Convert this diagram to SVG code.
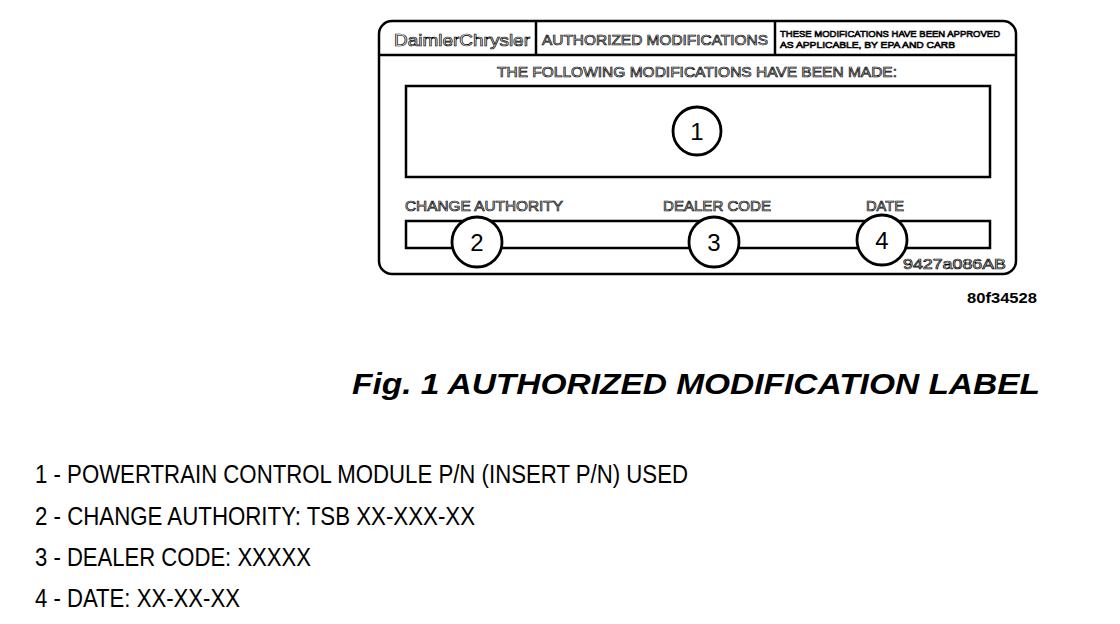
<svg xmlns="http://www.w3.org/2000/svg" width="1120" height="624" viewBox="0 0 1120 624">
<style>
.ln{fill:none;stroke:#000;stroke-width:2.5}
.hol{font-family:"Liberation Sans",Arial,sans-serif;fill:#fff;stroke:#000;stroke-width:0.7}
.num{font-family:"Liberation Sans",Arial,sans-serif;font-size:24px;fill:#000;text-anchor:middle}
.cir{fill:#fff;stroke:#000;stroke-width:2.8}
.lst{font-family:"Liberation Sans",Arial,sans-serif;font-size:25px;fill:#000}
</style>
<rect width="1120" height="624" fill="#fff"/>
<g id="label">
<rect class="ln" x="379" y="21" width="637" height="253" rx="13" ry="13"/>
<line class="ln" x1="379" y1="55" x2="1016" y2="55" stroke-width="2"/>
<line class="ln" x1="536" y1="21" x2="536" y2="55" stroke-width="2"/>
<line class="ln" x1="775" y1="21" x2="775" y2="55" stroke-width="2"/>
<text class="hol" x="462" y="46" font-size="17" text-anchor="middle" textLength="136" lengthAdjust="spacingAndGlyphs">DaimlerChrysler</text>
<text class="hol" x="655" y="45" font-size="14" text-anchor="middle" textLength="226" lengthAdjust="spacingAndGlyphs">AUTHORIZED MODIFICATIONS</text>
<text class="hol" x="780" y="37" font-size="9" stroke-width="0.5" textLength="220" lengthAdjust="spacingAndGlyphs">THESE MODIFICATIONS HAVE BEEN APPROVED</text>
<text class="hol" x="780" y="48" font-size="9" stroke-width="0.5" textLength="175" lengthAdjust="spacingAndGlyphs">AS APPLICABLE, BY EPA AND CARB</text>
<text class="hol" x="697" y="77" font-size="14" text-anchor="middle" textLength="400" lengthAdjust="spacingAndGlyphs">THE FOLLOWING MODIFICATIONS HAVE BEEN MADE:</text>
<text class="hol" x="405" y="211" font-size="14" textLength="158" lengthAdjust="spacingAndGlyphs">CHANGE AUTHORITY</text>
<text class="hol" x="663" y="211" font-size="14" textLength="108" lengthAdjust="spacingAndGlyphs">DEALER CODE</text>
<text class="hol" x="866" y="211" font-size="14" textLength="38" lengthAdjust="spacingAndGlyphs">DATE</text>
<text class="hol" x="903" y="269" font-size="14" textLength="103" lengthAdjust="spacingAndGlyphs">9427a086AB</text>
</g>
<g id="box1">
<rect class="ln" x="406" y="86" width="584" height="91"/>
</g>
<g id="box2">
<rect class="ln" x="406" y="221" width="584" height="27"/>
</g>
<g id="n1">
<circle class="cir" cx="697" cy="131" r="24"/>
<text class="num" x="697" y="140">1</text>
</g>
<g id="n2">
<circle class="cir" cx="477" cy="242" r="25"/>
<text class="num" x="477" y="251">2</text>
</g>
<g id="n3">
<circle class="cir" cx="714" cy="242" r="25"/>
<text class="num" x="714" y="251">3</text>
</g>
<g id="n4">
<circle class="cir" cx="882" cy="240" r="25"/>
<text class="num" x="882" y="249">4</text>
</g>
<g id="connectors"></g>
<text x="1037" y="303" font-family="'Liberation Sans',Arial,sans-serif" font-size="14" font-weight="bold" text-anchor="end" textLength="70" lengthAdjust="spacingAndGlyphs">80f34528</text>
<text x="352" y="394" font-family="'Liberation Sans',Arial,sans-serif" font-size="30" font-weight="bold" font-style="italic" textLength="688" lengthAdjust="spacingAndGlyphs">Fig. 1 AUTHORIZED MODIFICATION LABEL</text>
<text class="lst" x="35" y="483" textLength="653" lengthAdjust="spacingAndGlyphs">1 - POWERTRAIN CONTROL MODULE P/N (INSERT P/N) USED</text>
<text class="lst" x="35" y="525" textLength="440" lengthAdjust="spacingAndGlyphs">2 - CHANGE AUTHORITY: TSB XX-XXX-XX</text>
<text class="lst" x="35" y="566" textLength="276" lengthAdjust="spacingAndGlyphs">3 - DEALER CODE: XXXXX</text>
<text class="lst" x="35" y="607" textLength="205" lengthAdjust="spacingAndGlyphs">4 - DATE: XX-XX-XX</text>
</svg>
